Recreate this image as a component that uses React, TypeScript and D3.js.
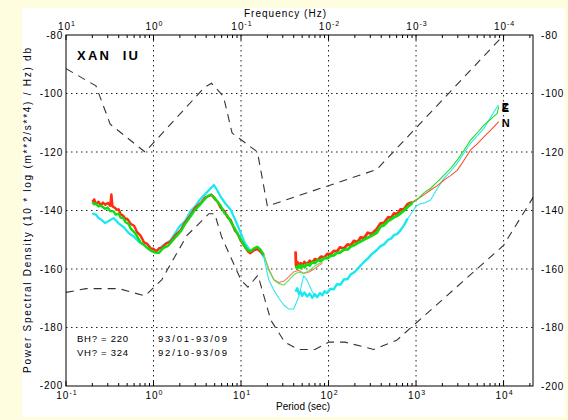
import React from "react";
import * as d3 from "d3";

// ---------- data ----------
const yTicks = [-80, -100, -120, -140, -160, -180, -200];
const periodTickExps = [-1, 0, 1, 2, 3, 4];
const freqTickExps = [1, 0, -1, -2, -3, -4];

// Peterson high / low noise models (period s, dB)
const nhnmPeriods = [0.1, 0.22, 0.32, 0.8, 3.8, 4.6, 6.3, 7.9, 15.4, 20, 354.8, 10000, 22000];
const nhnmDb = [-91.5, -97.4, -110.5, -120.0, -98.0, -96.5, -101.0, -113.5, -120.0, -138.5, -126.0, -80.1, -69.3];
const nlnmPeriods = [0.1, 0.17, 0.4, 0.8, 1.24, 2.4, 4.3, 5, 6, 10, 12, 15.6, 21.9, 31.6, 45, 70, 101, 154, 328, 600, 10000, 22000];
const nlnmDb = [-168.0, -166.7, -166.7, -169.2, -163.7, -148.6, -141.1, -141.1, -149.0, -163.8, -166.2, -162.1, -177.5, -185.0, -187.5, -187.5, -185.0, -185.0, -187.5, -184.4, -151.9, -135.3];

// short-period channel (BH)
const redAPeriods = [0.2, 0.21, 0.22, 0.235, 0.25, 0.265, 0.28, 0.3, 0.32, 0.33, 0.34, 0.36, 0.38, 0.4, 0.42, 0.45, 0.48, 0.5, 0.55, 0.6, 0.65, 0.71, 0.78, 0.85, 0.93, 1.0, 1.07, 1.15, 1.25, 1.4, 1.56, 1.8, 2.04, 2.3, 2.65, 3.0, 3.45, 3.9, 4.3, 4.6, 5.0, 5.4, 5.83, 6.5, 7.0, 7.6, 8.5, 9.2, 9.9, 11, 12, 12.8, 14, 15.3, 16.5, 18.2, 20.8, 23.7, 27, 30.8, 35.2, 40, 45.7, 52, 60, 70, 85];
const redADb = [-137.0, -136.2, -137.8, -137.0, -138.2, -137.3, -138.0, -137.4, -138.4, -134.5, -138.6, -139.0, -139.8, -139.6, -141.2, -141.8, -143.0, -142.8, -144.6, -145.2, -147.4, -148.6, -150.9, -151.4, -153.0, -153.1, -154.0, -153.0, -152.7, -151.2, -150.7, -148.3, -146.8, -144.0, -141.6, -139.0, -137.5, -135.6, -135.0, -134.6, -136.0, -137.0, -139.0, -140.2, -142.3, -143.2, -146.8, -148.0, -150.3, -152.2, -154.0, -154.6, -153.6, -153.2, -153.9, -155.2, -160.0, -163.6, -164.6, -164.2, -162.6, -161.0, -160.4, -161.5, -161.0, -159.8, -158.0];
const greenAPeriods = [0.2, 0.21, 0.22, 0.235, 0.25, 0.28, 0.3, 0.32, 0.35, 0.37, 0.4, 0.42, 0.45, 0.48, 0.52, 0.55, 0.62, 0.71, 0.8, 0.93, 1.05, 1.15, 1.3, 1.45, 1.56, 1.8, 2.04, 2.3, 2.65, 3.0, 3.45, 4.1, 4.48, 4.9, 5.4, 5.83, 6.5, 7.0, 7.6, 8.5, 9.2, 9.9, 11.5, 12.8, 14, 15.3, 16.5, 18.2, 20.8, 23.7, 27, 30.8, 35.2, 40, 45.7, 52, 60, 70, 85];
const greenADb = [-137.2, -137.9, -137.6, -138.6, -138.3, -139.4, -139.0, -140.2, -140.3, -141.4, -141.1, -142.4, -142.6, -144.0, -144.6, -146.2, -147.8, -150.9, -152.1, -153.7, -154.4, -154.5, -152.8, -152.2, -151.2, -149.0, -147.2, -144.6, -142.0, -139.7, -137.8, -135.2, -134.6, -135.4, -137.0, -138.3, -141.0, -141.8, -143.8, -146.2, -148.3, -149.8, -153.2, -154.0, -153.0, -152.4, -153.2, -155.2, -160.5, -163.8, -165.0, -165.5, -163.8, -162.0, -161.0, -161.5, -160.5, -159.0, -157.5];
const cyanAPeriods = [0.2, 0.22, 0.235, 0.25, 0.28, 0.31, 0.35, 0.4, 0.46, 0.52, 0.59, 0.68, 0.77, 0.88, 1.0, 1.1, 1.3, 1.56, 2.0, 2.3, 2.65, 3.0, 3.3, 3.9, 4.5, 4.9, 5.3, 5.83, 6.6, 7.6, 8.7, 9.9, 11, 12.8, 14, 15.3, 16.5, 18.2, 20.8, 23.7, 27, 30.8, 35.2, 40, 45.7, 52, 56.7, 65, 74];
const cyanADb = [-141.0, -141.4, -142.6, -143.0, -144.3, -143.5, -142.6, -144.4, -145.8, -147.7, -148.8, -150.7, -151.6, -153.2, -153.8, -153.7, -151.8, -150.2, -145.3, -143.6, -140.2, -138.6, -136.7, -134.4, -132.4, -131.3, -132.9, -135.2, -137.6, -139.7, -143.6, -147.6, -151.0, -153.8, -153.4, -152.8, -153.8, -156.0, -163.8, -167.2, -170.0, -172.3, -173.7, -173.7, -169.5, -162.3, -163.8, -167.7, -170.0];

// long-period channel (VH)
const redBPeriods = [42, 42.5, 44, 46, 48, 50, 53, 57, 61, 65, 70, 75, 82, 90, 97, 105, 115, 125, 135, 150, 165, 180, 195, 215, 232, 255, 280, 310, 356, 393, 430, 480, 520, 560, 610, 665, 730, 800, 900, 1072, 1250, 1466, 1750, 2087, 2500, 2966, 3500, 4200, 5000, 5960, 7000, 8450, 8800];
const redBDb = [-154.0, -158.8, -157.6, -159.2, -158.0, -158.9, -157.6, -158.4, -157.2, -157.8, -156.6, -157.0, -155.8, -156.0, -154.8, -155.0, -153.8, -154.0, -152.6, -153.0, -151.6, -151.9, -150.4, -150.8, -149.2, -149.4, -147.6, -148.0, -146.3, -144.4, -144.2, -142.3, -142.5, -141.0, -141.2, -139.6, -139.5, -137.8, -137.2, -135.8, -134.5, -133.0, -131.5, -129.6, -128.0, -126.2, -123.0, -119.3, -117.2, -114.8, -112.8, -110.2, -109.6];
const greenBPeriods = [42, 44, 46, 48, 50, 53, 57, 61, 65, 70, 75, 82, 90, 97, 105, 115, 125, 135, 150, 165, 180, 195, 215, 232, 255, 280, 310, 356, 393, 430, 480, 520, 560, 610, 665, 730, 800, 900, 1072, 1250, 1466, 1750, 2087, 2500, 2966, 3500, 4200, 5000, 5960, 7000, 8450, 8800];
const greenBDb = [-159.0, -159.8, -158.8, -159.6, -158.7, -159.4, -158.3, -158.8, -157.7, -158.0, -157.0, -157.2, -156.2, -156.4, -155.5, -155.3, -154.5, -154.4, -153.4, -153.3, -152.3, -151.9, -151.1, -150.6, -149.9, -149.3, -148.6, -147.6, -145.5, -145.0, -143.6, -143.0, -142.3, -141.8, -141.0, -140.0, -138.8, -137.5, -135.8, -133.8, -132.4, -130.2, -127.9, -125.5, -122.7, -119.6, -115.9, -113.5, -110.8, -109.0, -106.8, -104.5];
const cyanBPeriods = [42, 44, 46, 48, 50, 53, 57, 61, 65, 70, 74, 80, 85, 90, 96, 105, 115, 125, 137, 150, 165, 180, 195, 215, 232, 255, 280, 310, 356, 393, 430, 480, 520, 560, 610, 665, 730, 800, 900, 1000, 1100, 1250, 1466, 1750, 2087, 2500, 2966, 3500, 4200, 5000, 5960, 7000, 8450, 8800];
const cyanBDb = [-167.7, -166.6, -168.6, -167.8, -169.2, -168.0, -169.4, -168.4, -169.8, -168.6, -169.6, -168.2, -169.0, -167.6, -168.2, -166.8, -166.9, -165.2, -165.3, -163.6, -163.4, -161.8, -161.2, -160.0, -158.8, -157.6, -156.5, -155.0, -153.5, -152.2, -151.6, -150.0, -149.6, -148.4, -148.0, -146.7, -145.0, -142.8, -140.6, -138.6, -137.8, -137.4, -136.4, -132.5, -129.0, -126.5, -123.8, -120.5, -117.0, -114.5, -111.9, -108.5, -104.5, -104.0];

const stationLabel = "XAN  IU";
const infoRows = [
  ["BH? = 220", "93/01-93/09"],
  ["VH? = 324", "92/10-93/09"],
];
const componentLabels = ["Z", "E", "N"];

// ---------- layout ----------
const W = 568, H = 420;
const L = 66, R = 533, T = 35, B = 386;
const FONT = "'Liberation Sans', Arial, Helvetica, sans-serif";

const x = d3.scaleLog().domain([0.1, 21700]).range([L, R]);
const y = d3.scaleLinear().domain([-200, -80]).range([B, T]);

const zip = (p: number[], v: number[]) => p.map((pp, i) => [pp, v[i]] as [number, number]);
const line = d3.line<[number, number]>().x((d) => x(d[0])).y((d) => y(d[1]));

type Series = { p: number[]; v: number[]; color: string; light: string; thickUntil: number; thick: number; thin: number };
const series: Series[] = [
  { p: cyanAPeriods, v: cyanADb, color: "#1ae8f0", light: "#2ee6ee", thickUntil: 20, thick: 2.2, thin: 1.1 },
  { p: redAPeriods, v: redADb, color: "#ff2c10", light: "#ff7060", thickUntil: 19, thick: 2.4, thin: 1.1 },
  { p: greenAPeriods, v: greenADb, color: "#10dd10", light: "#50e850", thickUntil: 19, thick: 2.4, thin: 1.1 },
  { p: cyanBPeriods, v: cyanBDb, color: "#1ae8f0", light: "#2ee6ee", thickUntil: 800, thick: 2.4, thin: 1.1 },
  { p: redBPeriods, v: redBDb, color: "#ff2c10", light: "#ff4a30", thickUntil: 900, thick: 2.8, thin: 1.1 },
  { p: greenBPeriods, v: greenBDb, color: "#10dd10", light: "#22dd22", thickUntil: 900, thick: 2.8, thin: 1.1 },
];

function Pow({ cx, cy, exp }: { cx: number; cy: number; exp: number }) {
  return (
    <text x={cx} y={cy} textAnchor="middle" fontSize={10} fontFamily={FONT} fill="#000" letterSpacing={1}>
      10
      <tspan fontSize={7} dy={-4.5}>{String(exp)}</tspan>
    </text>
  );
}

export default function App() {
  const minor: number[] = [];
  for (let e = -1; e <= 4; e++) for (let m = 2; m <= 9; m++) {
    const v = m * Math.pow(10, e);
    if (v < 21700) minor.push(v);
  }
  const major = periodTickExps.map((e) => Math.pow(10, e));
  const gridX = major.slice(1);
  const gridY = yTicks.slice(1, -1);
  return (
    <svg width={W} height={H} style={{ position: "absolute", left: 0, top: 0 }}>
      <rect x={0} y={0} width={W} height={H} fill="#fffde0" />
      <rect x={22} y={8} width={543} height={409} fill="#ffffff" />
      <defs>
        <clipPath id="plot"><rect x={L} y={T} width={R - L} height={B - T} /></clipPath>
      </defs>
      {/* grid */}
      {gridY.map((v) => (
        <line key={"gy" + v} x1={L} x2={R} y1={y(v)} y2={y(v)} stroke="#222" strokeWidth={1} strokeDasharray="1.5,3.5" />
      ))}
      {gridX.map((v) => (
        <line key={"gx" + v} x1={x(v)} x2={x(v)} y1={T} y2={B} stroke="#222" strokeWidth={1} strokeDasharray="1.5,3.5" />
      ))}
      {/* noise models */}
      <g clipPath="url(#plot)" fill="none" stroke="#333" strokeWidth={1.1} strokeDasharray="8,6">
        <path d={line(zip(nhnmPeriods, nhnmDb)) || ""} />
        <path d={line(zip(nlnmPeriods, nlnmDb)) || ""} />
      </g>
      {/* spectra */}
      <g clipPath="url(#plot)" fill="none" strokeLinejoin="round">
        {series.map((s, i) => (
          <path key={"thin" + i} d={line(zip(s.p, s.v)) || ""} stroke={s.light} strokeWidth={s.thin} />
        ))}
        {series.map((s, i) => (
          <path key={"thick" + i} d={line(zip(s.p, s.v).filter((d) => d[0] <= s.thickUntil)) || ""} stroke={s.color} strokeWidth={s.thick} />
        ))}
      </g>
      {/* frame */}
      <rect x={L} y={T} width={R - L} height={B - T} fill="none" stroke="#000" strokeWidth={1} />
      {minor.map((v) => (
        <g key={"mt" + v} stroke="#000" strokeWidth={1}>
          <line x1={x(v)} x2={x(v)} y1={T} y2={T + 3} />
          <line x1={x(v)} x2={x(v)} y1={B} y2={B - 3} />
        </g>
      ))}
      {major.map((v) => (
        <g key={"Mt" + v} stroke="#000" strokeWidth={1}>
          <line x1={x(v)} x2={x(v)} y1={T} y2={T + 5} />
          <line x1={x(v)} x2={x(v)} y1={B} y2={B - 5} />
        </g>
      ))}
      {/* y labels */}
      {yTicks.map((v) => (
        <g key={"yl" + v} fontFamily={FONT} fontSize={10} fill="#000">
          <text x={L - 3} y={y(v) + (v === -200 ? 2.5 : 3.5)} textAnchor="end" letterSpacing={0.8}>{v}</text>
          <text x={R + 8} y={y(v) + 3.5} textAnchor="start" letterSpacing={0.8}>{v}</text>
        </g>
      ))}
      {/* x labels */}
      {periodTickExps.map((e) => (
        <Pow key={"bx" + e} cx={x(Math.pow(10, e)) + 1} cy={B + 13} exp={e} />
      ))}
      {freqTickExps.map((e) => (
        <Pow key={"tx" + e} cx={x(Math.pow(10, -e)) + 1} cy={T - 5} exp={e} />
      ))}
      <text x={285} y={17} textAnchor="middle" fontFamily={FONT} fontSize={10} textLength={82} lengthAdjust="spacing">Frequency (Hz)</text>
      <text x={303} y={410} textAnchor="middle" fontFamily={FONT} fontSize={10} textLength={54} lengthAdjust="spacing">Period (sec)</text>
      <text transform={`translate(31,${(T + B) / 2}) rotate(-90)`} textAnchor="middle" fontFamily={FONT} fontSize={10} textLength={325} lengthAdjust="spacing">
        Power Spectral Density (10 * log (m**2/s**4) / Hz) db
      </text>
      {/* annotations */}
      <text x={77} y={60} fontFamily={FONT} fontSize={13} fontWeight="bold" textLength={61} lengthAdjust="spacing" style={{ whiteSpace: "pre" }}>{stationLabel}</text>
      {infoRows.map((r, i) => (
        <g key={"info" + i} fontFamily={FONT} fontSize={9.5}>
          <text x={77} y={342 + i * 13.5} textLength={51} lengthAdjust="spacing">{r[0]}</text>
          <text x={158} y={342 + i * 13.5} textLength={69} lengthAdjust="spacing">{r[1]}</text>
        </g>
      ))}
      {[cyanBPeriods, greenBPeriods, redBPeriods].map((p, i) => {
        const vals = [cyanBDb, greenBDb, redBDb][i];
        const lp = p[p.length - 1];
        const lv = vals[vals.length - 1];
        return (
          <text key={"cl" + i} x={x(lp) + 3} y={y(lv) + (i === 2 ? 5 : 5.5)} fontFamily={FONT} fontSize={11} fontWeight="bold">{componentLabels[i]}</text>
        );
      })}
    </svg>
  );
}
